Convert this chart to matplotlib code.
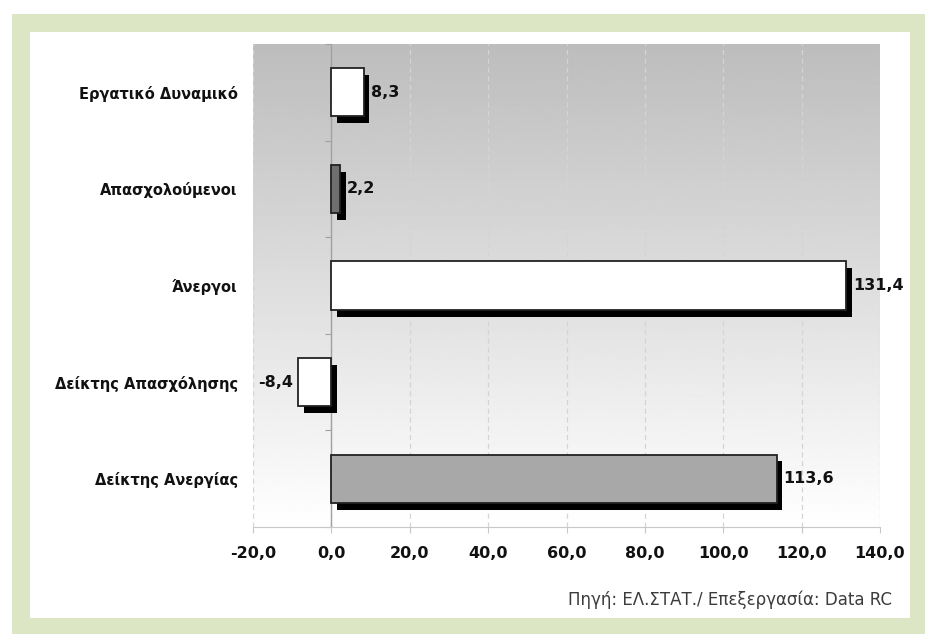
import numpy as np
import matplotlib.pyplot as plt
from matplotlib.patches import Rectangle
import matplotlib.patheffects as pe

###############################################################################
" Datos "
###############################################################################
categorias = ["Εργατικό Δυναμικό", "Απασχολούμενοι", "Άνεργοι",
              "Δείκτης Απασχόλησης", "Δείκτης Ανεργίας"]
valores = [8.3, 2.2, 131.4, -8.4, 113.6]
etiquetas = ["8,3", "2,2", "131,4", "-8,4", "113,6"]
colores = ["#ffffff", "#6f6f6f", "#ffffff", "#ffffff", "#a8a8a8"]
xticks = [-20, 0, 20, 40, 60, 80, 100, 120, 140]
xlabels = ["-20,0", "0,0", "20,0", "40,0", "60,0", "80,0", "100,0", "120,0", "140,0"]
fuente = "Πηγή: ΕΛ.ΣΤΑΤ./ Επεξεργασία: Data RC"

W, H = 925, 634
fig = plt.figure(figsize=(W/100, H/100), dpi=100)
fig.patch.set_facecolor("white")

# marco verde + panel blanco
fig.patches.append(Rectangle((12/W, 0), 1 - 12/W, 1 - 14/H, transform=fig.transFigure,
                             facecolor="#dce6c4", edgecolor="none", zorder=-3))
fig.patches.append(Rectangle((30/W, 1 - 618/H), (910 - 30)/W, (618 - 32)/H,
                             transform=fig.transFigure, facecolor="white",
                             edgecolor="none", zorder=-2))

ax = fig.add_axes([253/W, 1 - 527/H, (880 - 253)/W, (527 - 44)/H])
ax.set_facecolor("none")

# degradado del fondo
grad = np.linspace(0.74, 1.0, 256).reshape(-1, 1)
ax.imshow(grad, cmap="gray", vmin=0, vmax=1, aspect="auto",
          extent=[0, 1, 0, 1], transform=ax.transAxes, zorder=0)

y = np.arange(len(categorias))
barras = ax.barh(y, valores, height=0.5, color=colores, edgecolor="#222222",
                 linewidth=1.3, zorder=4)
for b in barras:
    b.set_path_effects([pe.SimplePatchShadow(offset=(4, -5), shadow_rgbFace="black",
                                             alpha=1.0), pe.Normal()])

for yi, v, t in zip(y, valores, etiquetas):
    if v >= 0:
        ax.annotate(t, (v, yi), xytext=(5, 0), textcoords="offset points",
                    ha="left", va="center", fontsize=11.5, fontweight="bold",
                    color="#111111")
    else:
        ax.annotate(t, (v, yi), xytext=(-4, 0), textcoords="offset points",
                    ha="right", va="center", fontsize=11.5, fontweight="bold",
                    color="#111111")

ax.set_xlim(-20, 140)
ax.set_ylim(len(categorias) - 0.5, -0.5)
ax.set_xticks(xticks)
ax.set_xticklabels(xlabels, fontsize=11.5, fontweight="bold", color="#111111")
ax.set_yticks(y)
ax.set_yticklabels(categorias, fontsize=10.5, fontweight="bold", color="#111111")
ax.tick_params(axis="y", length=0, pad=11)
ax.tick_params(axis="x", length=4, color="#c8c8c8", pad=10)
ax.grid(axis="x", linestyle=(0, (4, 3)), color="#d4d4d4", linewidth=0.9, zorder=1)

for s in ["top", "right", "left"]:
    ax.spines[s].set_visible(False)
ax.spines["bottom"].set_color("#c8c8c8")

# eje vertical en x = 0
ax.axvline(0, color="#a0a0a0", linewidth=1.0, zorder=2)
eje0 = ax.secondary_yaxis(20/160)
eje0.spines["right"].set_visible(False)
eje0.spines["left"].set_visible(False)
eje0.set_yticks(np.arange(len(categorias) + 1) - 0.5)
eje0.set_yticklabels([])
eje0.tick_params(length=4, color="#a0a0a0")

fig.text(892/W, 1 - 600/H, fuente, ha="right", va="center", fontsize=12, color="#3c3c3c")

plt.savefig("out.png", dpi=100)
